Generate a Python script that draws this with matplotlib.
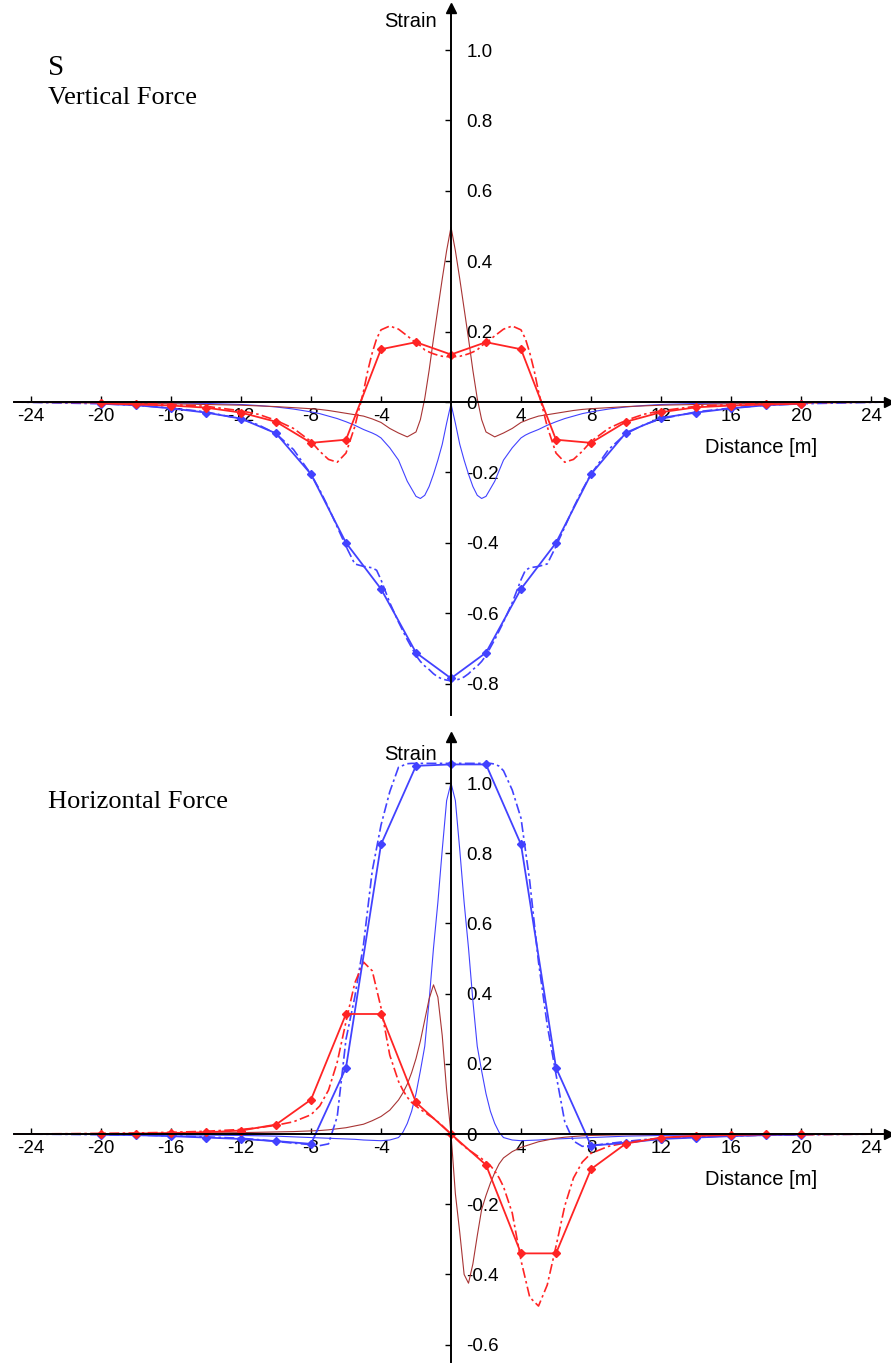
import matplotlib
matplotlib.use("Agg")
import matplotlib.pyplot as plt
from matplotlib.ticker import FuncFormatter

plt.rcParams['font.family'] = ['Liberation Sans', 'DejaVu Sans']
plt.rcParams['axes.unicode_minus'] = False

RED = '#ff2424'
BLUE = '#4242ff'
BROWN = '#a83434'

# ---- data: vertical force (top panel) ----
x_pts = [-20, -18, -16, -14, -12, -10, -8, -6, -4, -2, 0, 2, 4, 6, 8, 10, 12, 14, 16, 18, 20]

v_red_pts = [-0.004, -0.007, -0.010, -0.016, -0.030, -0.056, -0.116, -0.107, 0.150, 0.170, 0.135,
             0.170, 0.150, -0.107, -0.116, -0.056, -0.029, -0.015, -0.010, -0.007, -0.005]
v_blue_pts = [-0.005, -0.009, -0.018, -0.030, -0.047, -0.089, -0.205, -0.400, -0.531, -0.712, -0.785,
              -0.712, -0.531, -0.400, -0.205, -0.087, -0.045, -0.030, -0.018, -0.009, -0.005]

x_top = [-25, -22, -20, -18, -16, -14, -12, -11, -10, -9, -8, -7.5, -7, -6.5, -6, -5.5, -5, -4.75,
         -4.5, -4.25, -4, -3.5, -3, -2.5, -2, -1.75, -1.5, -1.25, -1, -0.75, -0.5, -0.25, 0,
         0.25, 0.5, 0.75, 1, 1.25, 1.5, 1.75, 2, 2.5, 3, 3.5, 4, 4.25, 4.5, 4.75, 5, 5.5, 6,
         6.5, 7, 7.5, 8, 9, 10, 11, 12, 14, 16, 18, 20, 22, 25]

v_red_dd = [0.0, -0.001, -0.002, -0.004, -0.007, -0.012, -0.025, -0.035, -0.052, -0.075, -0.112, -0.140,
            -0.163, -0.171, -0.145, -0.070, 0.030, 0.090, 0.140, 0.180, 0.205, 0.216, 0.207, 0.188,
            0.168, 0.160, 0.148, 0.142, 0.137, 0.133, 0.130, 0.129, 0.128,
            0.129, 0.130, 0.133, 0.137, 0.142, 0.148, 0.160, 0.168, 0.188, 0.207, 0.216, 0.205,
            0.180, 0.140, 0.090, 0.030, -0.070, -0.145, -0.171, -0.163, -0.140, -0.112, -0.075,
            -0.052, -0.035, -0.025, -0.012, -0.007, -0.004, -0.002, -0.001, 0.0]

v_blue_dd = [0.0, -0.003, -0.005, -0.009, -0.017, -0.028, -0.048, -0.065, -0.090, -0.135, -0.205, -0.250,
             -0.300, -0.355, -0.410, -0.460, -0.467, -0.469, -0.471, -0.478, -0.505, -0.570, -0.625,
             -0.675, -0.720, -0.737, -0.750, -0.760, -0.772, -0.781, -0.787, -0.790, -0.792,
             -0.790, -0.787, -0.781, -0.772, -0.760, -0.750, -0.737, -0.720, -0.675, -0.625, -0.570,
             -0.505, -0.478, -0.471, -0.469, -0.467, -0.460, -0.410, -0.355, -0.300, -0.250, -0.205,
             -0.135, -0.090, -0.065, -0.048, -0.028, -0.017, -0.009, -0.005, -0.003, 0.0]

v_brown = [-0.001, -0.002, -0.003, -0.004, -0.005, -0.007, -0.009, -0.011, -0.013, -0.016, -0.019,
           -0.021, -0.024, -0.028, -0.032, -0.036, -0.040, -0.044, -0.048, -0.053, -0.058, -0.075,
           -0.088, -0.099, -0.085, -0.050, 0.010, 0.090, 0.180, 0.265, 0.350, 0.430, 0.497,
           0.430, 0.350, 0.265, 0.180, 0.090, 0.010, -0.050, -0.085, -0.099, -0.088, -0.075, -0.058,
           -0.053, -0.048, -0.044, -0.040, -0.036, -0.032, -0.028, -0.024, -0.021, -0.019, -0.016,
           -0.013, -0.011, -0.009, -0.007, -0.005, -0.004, -0.003, -0.002, -0.001]

v_blue_thin = [-0.0005, -0.001, -0.0015, -0.002, -0.003, -0.004, -0.007, -0.010, -0.014, -0.020, -0.028,
               -0.033, -0.040, -0.047, -0.056, -0.066, -0.078, -0.083, -0.088, -0.094, -0.102, -0.130,
               -0.165, -0.225, -0.268, -0.274, -0.265, -0.240, -0.205, -0.165, -0.120, -0.060, -0.005,
               -0.060, -0.120, -0.165, -0.205, -0.240, -0.265, -0.274, -0.268, -0.225, -0.165, -0.130,
               -0.102, -0.094, -0.088, -0.083, -0.078, -0.066, -0.056, -0.047, -0.040, -0.033, -0.028,
               -0.020, -0.014, -0.010, -0.007, -0.004, -0.003, -0.002, -0.0015, -0.001, -0.0005]

# ---- data: horizontal force (bottom panel) ----
h_red_pts = [0.0, 0.001, 0.003, 0.005, 0.010, 0.027, 0.098, 0.342, 0.342, 0.090, 0.0,
             -0.088, -0.340, -0.340, -0.100, -0.027, -0.010, -0.005, -0.003, -0.001, 0.0]
h_blue_pts = [-0.002, -0.003, -0.006, -0.010, -0.014, -0.020, -0.028, 0.189, 0.825, 1.049, 1.053,
              1.053, 0.825, 0.189, -0.033, -0.025, -0.014, -0.010, -0.006, -0.003, -0.002]

x_bot = [-25, -22, -20, -18, -16, -14, -12, -11, -10, -9, -8, -7.5, -7, -6.5, -6, -5.5, -5, -4.5,
         -4, -3.5, -3, -2.75, -2.5, -2.25, -2, -1.75, -1.5, -1.25, -1, -0.75, -0.5, -0.25, 0,
         0.25, 0.5, 0.75, 1, 1.25, 1.5, 1.75, 2, 2.25, 2.5, 2.75, 3, 3.5, 4, 4.5, 5, 5.5, 6,
         6.5, 7, 7.5, 8, 9, 10, 11, 12, 14, 16, 18, 20, 22, 25]

h_red_dd = [0.0, 0.001, 0.002, 0.003, 0.005, 0.008, 0.013, 0.018, 0.025, 0.035, 0.055, 0.080,
            0.125, 0.205, 0.320, 0.430, 0.490, 0.465, 0.360, 0.225, 0.150, 0.125, 0.105, 0.090,
            0.080, 0.070, 0.062, 0.053, 0.045, 0.035, 0.024, 0.012, 0.0,
            -0.012, -0.024, -0.035, -0.045, -0.053, -0.062, -0.070, -0.080, -0.090, -0.105, -0.125,
            -0.150, -0.225, -0.360, -0.465, -0.490, -0.430, -0.320, -0.205, -0.125, -0.080, -0.055,
            -0.035, -0.025, -0.018, -0.013, -0.008, -0.005, -0.003, -0.002, -0.001, 0.0]

h_blue_dd = [0.0, -0.001, -0.002, -0.003, -0.005, -0.008, -0.012, -0.016, -0.021, -0.026, -0.030,
             -0.033, -0.028, 0.050, 0.270, 0.390, 0.540, 0.750, 0.880, 0.975, 1.045, 1.050, 1.055,
             1.056, 1.056, 1.056, 1.056, 1.056, 1.056, 1.056, 1.056, 1.056, 1.056,
             1.056, 1.056, 1.056, 1.056, 1.056, 1.056, 1.056, 1.056, 1.056, 1.054, 1.048, 1.035,
             0.980, 0.900, 0.720, 0.490, 0.310, 0.170, 0.035, -0.020, -0.035, -0.033, -0.027,
             -0.021, -0.016, -0.012, -0.008, -0.005, -0.003, -0.002, -0.001, 0.0]

h_brown = [0.0, 0.001, 0.001, 0.002, 0.002, 0.003, 0.004, 0.005, 0.006, 0.007, 0.009, 0.010,
           0.012, 0.015, 0.018, 0.023, 0.028, 0.038, 0.050, 0.068, 0.097, 0.117, 0.142, 0.175,
           0.215, 0.265, 0.325, 0.385, 0.425, 0.390, 0.280, 0.125, 0.0,
           -0.170, -0.280, -0.400, -0.425, -0.370, -0.290, -0.215, -0.175, -0.140, -0.110, -0.085,
           -0.068, -0.050, -0.038, -0.030, -0.022, -0.017, -0.012, -0.009, -0.007, -0.005, -0.004,
           -0.003, -0.002, -0.002, -0.001, -0.001, -0.001, -0.001, -0.001, 0.0, 0.0]

h_blue_thin = [0.0, -0.0005, -0.001, -0.001, -0.002, -0.003, -0.004, -0.005, -0.006, -0.008, -0.010,
               -0.011, -0.012, -0.013, -0.014, -0.015, -0.017, -0.018, -0.019, -0.017, -0.010, 0.005,
               0.030, 0.065, 0.115, 0.180, 0.250, 0.380, 0.530, 0.660, 0.810, 0.950, 1.000,
               0.950, 0.810, 0.660, 0.530, 0.380, 0.250, 0.180, 0.115, 0.065, 0.030, 0.005, -0.010,
               -0.017, -0.019, -0.018, -0.017, -0.015, -0.014, -0.013, -0.012, -0.011, -0.010, -0.008,
               -0.006, -0.005, -0.004, -0.003, -0.002, -0.001, -0.001, -0.0005, 0.0]

x_ticks = [-24, -20, -16, -12, -8, -4, 4, 8, 12, 16, 20, 24]
top_yticks = [-0.8, -0.6, -0.4, -0.2, 0, 0.2, 0.4, 0.6, 0.8, 1.0]
bot_yticks = [-0.6, -0.4, -0.2, 0, 0.2, 0.4, 0.6, 0.8, 1.0]

W, H = 891, 1367
fig = plt.figure(figsize=(W / 100, H / 100), dpi=100)


def setup_axes(ax, yticks):
    ax.set_xlim(-25, 25)
    for side in ['left', 'bottom', 'right']:
        ax.spines[side].set_position(('data', 0))
    ax.spines['top'].set_visible(False)
    ax.spines['right'].set_visible(False)
    ax.spines['left'].set_linewidth(1.4)
    ax.spines['bottom'].set_linewidth(1.4)
    ax.set_xticks(x_ticks)
    ax.set_yticks(yticks)
    ax.yaxis.set_major_formatter(FuncFormatter(lambda v, p: '0' if abs(v) < 1e-9 else f'{v:.1f}'))
    ax.tick_params(axis='x', direction='in', length=4.5, width=1, pad=4, labelsize=13.5)
    ax.tick_params(axis='y', direction='out', length=4, width=1, pad=7, labelsize=13.5,
                   left=True, right=False, labelleft=False, labelright=True)
    ax.plot(1, 0, '>k', ms=7, transform=ax.get_yaxis_transform(), clip_on=False)
    ax.plot(0, 1, '^k', ms=7, transform=ax.get_xaxis_transform(), clip_on=False)
    ax.patch.set_alpha(0)


def draw(ax, xs, red_dd, blue_dd, brown, blue_thin, red_pts, blue_pts):
    ax.plot(xs, blue_thin, color=BLUE, lw=0.8)
    ax.plot(xs, brown, color=BROWN, lw=0.8)
    ax.plot(xs, blue_dd, color=BLUE, lw=1.2, dashes=(6, 2, 1.5, 2))
    ax.plot(xs, red_dd, color=RED, lw=1.2, dashes=(6, 2, 1.5, 2))
    ax.plot(x_pts, blue_pts, color=BLUE, lw=1.3, marker='D', ms=4)
    ax.plot(x_pts, red_pts, color=RED, lw=1.3, marker='D', ms=4)


# top panel: y from -0.89 to 1.12
ax1 = fig.add_axes([13.5 / W, 1 - 715.3 / H, 875 / W, 707.5 / H])
ax1.set_ylim(-0.89, 1.12)
setup_axes(ax1, top_yticks)
draw(ax1, x_top, v_red_dd, v_blue_dd, v_brown, v_blue_thin, v_red_pts, v_blue_pts)

# bottom panel: y from -0.65 to 1.13
ax2 = fig.add_axes([13.5 / W, 1 - 1362.2 / H, 875 / W, 624.8 / H])
ax2.set_ylim(-0.65, 1.13)
setup_axes(ax2, bot_yticks)
draw(ax2, x_bot, h_red_dd, h_blue_dd, h_brown, h_blue_thin, h_red_pts, h_blue_pts)

serif = ['Liberation Serif', 'DejaVu Serif']
fig.text(48 / W, 1 - 75 / H, 'S', family=serif, fontsize=21, va='baseline')
fig.text(48 / W, 1 - 104 / H, 'Vertical Force', family=serif, fontsize=19, va='baseline')
fig.text(48 / W, 1 - 808 / H, 'Horizontal Force', family=serif, fontsize=19, va='baseline')

fig.text(437 / W, 1 - 27 / H, 'Strain', fontsize=14.5, ha='right', va='baseline')
fig.text(437 / W, 1 - 760 / H, 'Strain', fontsize=14.5, ha='right', va='baseline')
fig.text(705 / W, 1 - 453 / H, 'Distance [m]', fontsize=14.5, ha='left', va='baseline')
fig.text(705 / W, 1 - 1185 / H, 'Distance [m]', fontsize=14.5, ha='left', va='baseline')

fig.savefig('out.png', dpi=100)
